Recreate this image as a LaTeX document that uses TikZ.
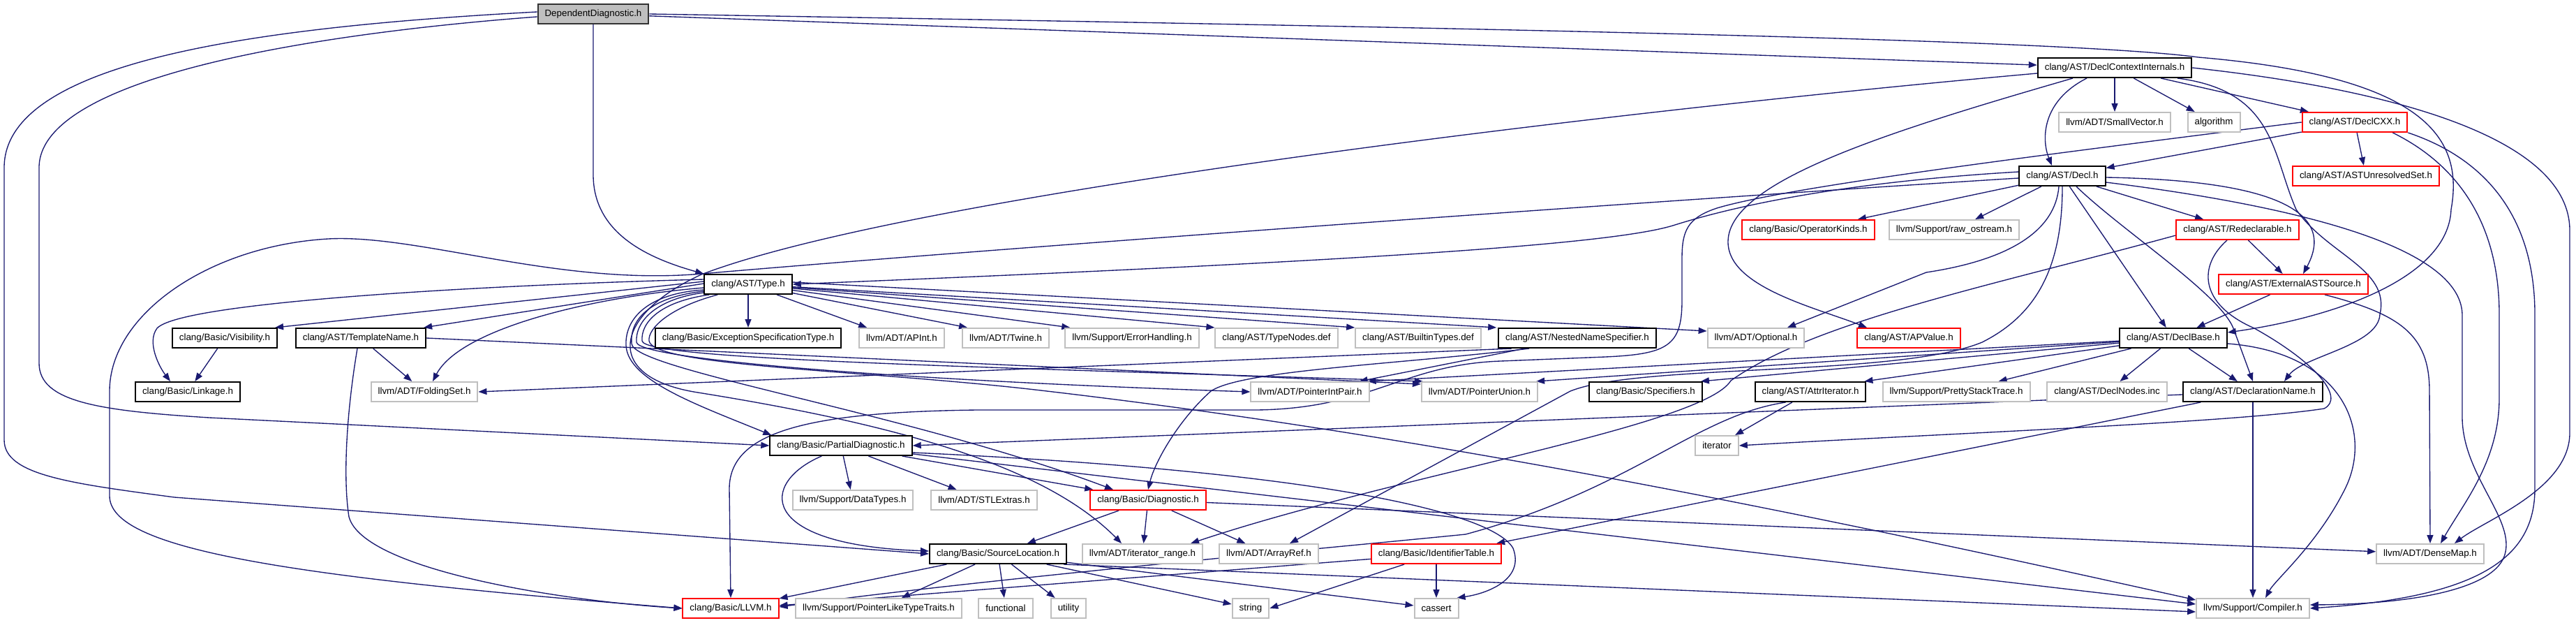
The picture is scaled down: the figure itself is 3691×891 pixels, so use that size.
\documentclass[tikz,border=0pt]{standalone}
\usepackage{fontspec}
\setmainfont{Liberation Sans}
\usepackage{tikz}
\usetikzlibrary{arrows.meta,calc}
\definecolor{edgeblue}{HTML}{191970}
\definecolor{boxgray}{HTML}{BFBFBF}
\pgfdeclarelayer{edges}
\pgfsetlayers{edges,main}
\tikzset{
  hfile/.style={rectangle,draw,fill=white,line width=0.4mm,minimum height=5.6mm,
    inner xsep=2mm,inner ysep=0pt,font=\fontsize{7.6}{9}\selectfont}, % include-graph box
  hroot/.style={hfile,fill=boxgray,draw=black!80},  % the file itself
  hdoc/.style={hfile,draw=black},                   % documented header
  hred/.style={hfile,draw=red},                     % graph truncated
  hext/.style={hfile,draw=boxgray},                 % no documentation
  dep/.style={-{Triangle[length=2.4mm,width=1.8mm]},edgeblue,line width=0.27mm},
}

\begin{document}
\begin{tikzpicture}[x=0.2mm,y=-0.2mm]
  \useasboundingbox (0,0) rectangle (3691,891);
  % upper rows
  \node[hroot] (DD) at (850,20) {DependentDiagnostic.h};
  \node[hdoc] (DCI) at (3030,97) {clang/AST/DeclContextInternals.h};
  \node[hext] (SV) at (3030,175) {llvm/ADT/SmallVector.h};
  \node[hext] (ALG) at (3172,175) {algorithm};
  \node[hred] (CXX) at (3374,175) {clang/AST/DeclCXX.h};
  \node[hdoc] (DECL) at (2955,252) {clang/AST/Decl.h};
  \node[hred] (AUS) at (3390,252) {clang/AST/ASTUnresolvedSet.h};
  \node[hred] (OPK) at (2591,329) {clang/Basic/OperatorKinds.h};
  \node[hext] (RAW) at (2800,329) {llvm/Support/raw\_ostream.h};
  \node[hred] (RED) at (3206,329) {clang/AST/Redeclarable.h};
  \node[hdoc] (TYPE) at (1072,407) {clang/AST/Type.h};
  \node[hred] (EXT) at (3286,407) {clang/AST/ExternalASTSource.h};
  % row of Type.h includes
  \node[hdoc] (VIS) at (322,484) {clang/Basic/Visibility.h};
  \node[hdoc] (TN) at (517,484) {clang/AST/TemplateName.h};
  \node[hdoc] (EST) at (1072,484) {clang/Basic/ExceptionSpecificationType.h};
  \node[hext] (APINT) at (1292,484) {llvm/ADT/APInt.h};
  \node[hext] (TWINE) at (1441,484) {llvm/ADT/Twine.h};
  \node[hext] (ERR) at (1622,484) {llvm/Support/ErrorHandling.h};
  \node[hext] (TND) at (1829,484) {clang/AST/TypeNodes.def};
  \node[hext] (BT) at (2032,484) {clang/AST/BuiltinTypes.def};
  \node[hdoc] (NNS) at (2260,484) {clang/AST/NestedNameSpecifier.h};
  \node[hext] (OPT) at (2516,484) {llvm/ADT/Optional.h};
  \node[hred] (APV) at (2735,484) {clang/AST/APValue.h};
  \node[hdoc] (DB) at (3114,484) {clang/AST/DeclBase.h};
  \node[hdoc] (LINK) at (269,561) {clang/Basic/Linkage.h};
  \node[hext] (FS) at (608,561) {llvm/ADT/FoldingSet.h};
  \node[hext] (PIP) at (1877,561) {llvm/ADT/PointerIntPair.h};
  \node[hext] (PU) at (2120,561) {llvm/ADT/PointerUnion.h};
  \node[hdoc] (SPEC) at (2358,561) {clang/Basic/Specifiers.h};
  \node[hdoc] (ATTR) at (2594,561) {clang/AST/AttrIterator.h};
  \node[hext] (PST) at (2803,561) {llvm/Support/PrettyStackTrace.h};
  \node[hext] (DNI) at (3019,561) {clang/AST/DeclNodes.inc};
  \node[hdoc] (DN) at (3228,561) {clang/AST/DeclarationName.h};
  % lower rows
  \node[hdoc] (PD) at (1205,638) {clang/Basic/PartialDiagnostic.h};
  \node[hext] (ITER) at (2460,638) {iterator};
  \node[hext] (DT) at (1222,716) {llvm/Support/DataTypes.h};
  \node[hext] (STL) at (1410,716) {llvm/ADT/STLExtras.h};
  \node[hred] (DIAG) at (1645,716) {clang/Basic/Diagnostic.h};
  \node[hdoc] (SL) at (1430,793) {clang/Basic/SourceLocation.h};
  \node[hext] (IR) at (1637,793) {llvm/ADT/iterator\_range.h};
  \node[hext] (AR) at (1818,793) {llvm/ADT/ArrayRef.h};
  \node[hred] (IT) at (2058,793) {clang/Basic/IdentifierTable.h};
  \node[hext] (DM) at (3482,793) {llvm/ADT/DenseMap.h};
  \node[hred] (LLVM) at (1047,871) {clang/Basic/LLVM.h};
  \node[hext] (PLT) at (1259,871) {llvm/Support/PointerLikeTypeTraits.h};
  \node[hext] (FUNC) at (1441,871) {functional};
  \node[hext] (UTIL) at (1531,871) {utility};
  \node[hext] (STR) at (1792,871) {string};
  \node[hext] (CASS) at (2058,871) {cassert};
  \node[hext] (COMP) at (3228,871) {llvm/Support/Compiler.h};

  \begin{pgfonlayer}{edges}
  \foreach \a/\b in {DCI/SV,DCI/ALG,DCI/CXX,CXX/AUS,CXX/DECL,DECL/OPK,DECL/RAW,DECL/RED,DECL/DB,
      RED/EXT,EXT/DB,DB/PST,DB/DNI,DB/DN,DN/COMP,ATTR/ITER,TYPE/EST,VIS/LINK,TN/FS,PD/DT,PD/STL,
      DIAG/SL,DIAG/IR,DIAG/AR,DIAG/DM,SL/LLVM,SL/PLT,SL/FUNC,SL/UTIL,SL/CASS,IT/CASS}
    \draw[dep] (\a) -- (\b);
  % DependentDiagnostic.h
  \draw[dep] (DD) -- (DCI);
  \draw[dep] (DD.east) .. controls (2000,38) and (2950,55) .. (3150,82) .. controls (3480,110) and (3530,200) .. (3512,300) .. controls (3508,400) and (3340,455) .. ($(DB.east)+(0,-8)$);
  \draw[dep] (DD.south) -- (850,250) .. controls (850,335) and (930,370) .. (TYPE.north west);
  \draw[dep] ($(DD.west)+(0,4)$) .. controls (450,48) and (56,110) .. (56,240) -- (56,520) .. controls (56,575) and (140,588) .. (300,598) -- (PD.west);
  \draw[dep] ($(DD.west)+(0,-3)$) .. controls (380,38) and (6,85) .. (6,240) -- (6,630) .. controls (6,680) and (100,692) .. (250,712) -- (SL.west);
  % DeclContextInternals.h
  \draw[dep] ($(DCI.south)+(-40,0)$) .. controls (2925,145) and (2925,200) .. ($(DECL.north)+(-15,0)$);
  \draw[dep] ($(DCI.south)+(90,0)$) .. controls (3260,130) and (3255,220) .. (3290,300) .. controls (3335,365) and (3425,385) .. (3410,450) .. controls (3408,495) and (3300,510) .. ($(DN.north)+(45,0)$);
  \draw[dep] (DCI.east) .. controls (3400,125) and (3682,190) .. (3682,330) -- (3682,620) .. controls (3682,700) and (3560,745) .. ($(DM.north)+(35,0)$);
  \draw[dep] ($(DCI.west)+(0,8)$) .. controls (2300,160) and (1300,280) .. (1005,393) .. controls (880,450) and (860,540) .. (1000,562) .. controls (1300,610) and (1500,670) .. ($(IR.north)+(-30,0)$);
  \draw[dep] ($(DCI.south)+(-60,0)$) .. controls (2700,190) and (2478,260) .. (2476,345) .. controls (2474,410) and (2600,440) .. ($(APV.north)+(-60,0)$);
  % DeclCXX.h
  \draw[dep] ($(CXX.south east)+(-22,0)$) .. controls (3530,240) and (3581,330) .. (3581,450) -- (3581,570) .. controls (3581,660) and (3530,720) .. ($(DM.north)+(15,0)$);
  \draw[dep] (CXX.south east) .. controls (3570,230) and (3632,320) .. (3632,450) -- (3632,700) .. controls (3632,800) and (3550,855) .. (COMP.east);
  \draw[dep] (CXX.west) .. controls (2900,225) and (2560,268) .. (2460,298) .. controls (2418,312) and (2410,330) .. (2410,370) -- (2410,430) .. controls (2410,495) and (2390,507) .. (2300,511) -- (2150,517) .. controls (2010,522) and (1965,585) .. (1800,587) -- (1400,587) .. controls (1150,590) and (1045,620) .. (1045,700) -- (LLVM.north);
  % Decl.h
  \draw[dep] ($(DECL.west)+(0,-6)$) .. controls (2620,262) and (2470,300) .. (2400,322) .. controls (2320,348) and (2000,372) .. (TYPE.east);
  \draw[dep] ($(DECL.west)+(0,3)$) .. controls (2300,292) and (1400,358) .. (1005,392) .. controls (800,410) and (600,335) .. (470,342) .. controls (300,352) and (157,450) .. (157,560) -- (157,710) .. controls (157,785) and (400,825) .. (LLVM.west);
  \draw[dep] ($(DECL.east)+(0,2)$) .. controls (3250,258) and (3350,300) .. ($(EXT.north)+(14,0)$);
  \draw[dep] ($(DECL.east)+(0,9)$) .. controls (3250,290) and (3525,345) .. (3528,450) -- (3528,600) .. controls (3530,680) and (3600,740) .. (3590,790) .. controls (3580,845) and (3450,865) .. ($(COMP.east)+(0,-5)$);
  \draw[dep] ($(DECL.south)+(20,0)$) .. controls (3040,330) and (3180,420) .. (3200,470) -- (DN.north);
  \draw[dep] ($(DECL.south)+(-5,0)$) .. controls (2945,330) and (2880,372) .. (2760,390) -- ($(OPT.north)+(45,0)$);
  \draw[dep] (DECL.south) .. controls (2955,380) and (2920,450) .. (2840,490) .. controls (2720,540) and (2350,520) .. (2250,560) -- ($(AR.north)+(30,0)$);
  % Redeclarable.h, ExternalASTSource.h
  \draw[dep] ($(RED.south)+(-15,0)$) .. controls (3150,380) and (3150,435) .. (3230,470) .. controls (3320,520) and (3360,570) .. (3330,585) .. controls (3200,605) and (2800,620) .. (ITER.east);
  \draw[dep] ($(RED.west)+(0,8)$) .. controls (2850,410) and (2600,460) .. (2480,545) .. controls (2440,610) and (2000,680) .. ($(IR.north east)+(-18,0)$);
  \draw[dep] ($(EXT.south)+(45,0)$) .. controls (3440,450) and (3481,480) .. (3481,560) -- (DM.north);
  % DeclBase.h
  \draw[dep] ($(DB.east)+(0,8)$) .. controls (3360,505) and (3400,620) .. (3360,700) .. controls (3320,780) and (3260,830) .. ($(COMP.north)+(18,0)$);
  \draw[dep] (DB) -- ($(ATTR.north east)+(-3,0)$);
  \draw[dep] (DB) -- ($(SPEC.north east)+(-3,0)$);
  \draw[dep] (DB) -- ($(PU.north east)+(-3,0)$);
  \draw[dep] (DB) -- ($(PIP.north east)+(-3,0)$);
  % DeclarationName.h, AttrIterator.h, NestedNameSpecifier.h
  \draw[dep] (DN) -- (PD.east);
  \draw[dep] (DN) -- ($(IT.north east)+(-8,0)$);
  \draw[dep] ($(ATTR.south west)+(45,0)$) .. controls (2430,595) and (2340,700) .. (2100,765) .. controls (1900,785) and (1400,830) .. ($(LLVM.east)+(0,-2)$);
  \draw[dep] (NNS) -- ($(PIP.north east)+(-15,0)$);
  \draw[dep] ($(NNS.south west)+(20,0)$) -- (FS.east);
  \draw[dep] ($(NNS.south west)+(45,0)$) .. controls (2000,522) and (1780,530) .. (1735,560) .. controls (1690,600) and (1655,660) .. (DIAG.north);
  % Type.h
  \draw[dep] (TYPE) -- ($(APINT.north west)+(12,0)$);
  \draw[dep] (TYPE) -- ($(TWINE.north west)+(8,0)$);
  \draw[dep] (TYPE) -- ($(ERR.north west)+(8,0)$);
  \draw[dep] (TYPE) -- (TND.north west);
  \draw[dep] (TYPE) -- (BT.north west);
  \draw[dep] (TYPE) -- ($(NNS.north west)+(-2,0)$);
  \draw[dep] ($(TYPE.east)+(0,-3)$) -- ($(OPT.west)+(0,-10)$);
  \draw[dep] ($(TYPE.west)+(0,-4)$) -- ($(VIS.north east)+(-4,0)$);
  \draw[dep] ($(TYPE.west)+(0,-1)$) -- ($(TN.north east)+(-4,0)$);
  \draw[dep] ($(TYPE.west)+(0,-7)$) .. controls (700,408) and (260,432) .. (225,470) .. controls (210,490) and (228,525) .. ($(LINK.north)+(-25,0)$);
  \draw[dep] ($(TYPE.west)+(0,5)$) .. controls (850,425) and (660,470) .. ($(FS.north)+(12,0)$);
  \draw[dep] ($(TYPE.west)+(0,8)$) .. controls (930,420) and (895,455) .. (897,495) .. controls (900,545) and (1000,580) .. ($(PD.north west)+(3,0)$);
  \draw[dep] ($(TYPE.west)+(0,10)$) .. controls (935,425) and (902,455) .. (905,492) .. controls (908,530) and (1300,590) .. ($(DIAG.north)+(-50,0)$);
  \draw[dep] ($(TYPE.west)+(0,12)$) .. controls (940,428) and (910,460) .. (912,490) .. controls (915,515) and (1300,545) .. (PIP.west);
  \draw[dep] ($(TYPE.south west)+(8,0)$) .. controls (945,432) and (918,462) .. (920,488) .. controls (922,515) and (1400,525) .. ($(PU.north west)+(3,0)$);
  \draw[dep] ($(TYPE.south west)+(20,0)$) .. controls (960,440) and (928,470) .. (930,488) .. controls (935,525) and (1250,530) .. (1500,560) .. controls (2100,630) and (2700,760) .. ($(COMP.west)+(0,-12)$);
  % TemplateName.h
  \draw[dep] (TN.east) -- ($(PU.north west)+(0,4)$);
  \draw[dep] ($(TN.south)+(-5,0)$) .. controls (495,600) and (492,690) .. (500,740) .. controls (520,815) and (800,860) .. (LLVM.west);
  % PartialDiagnostic.h
  \draw[dep] ($(PD.south east)+(-15,0)$) -- ($(DIAG.north west)+(5,0)$);
  \draw[dep] ($(PD.south west)+(75,0)$) .. controls (1090,690) and (1080,780) .. ($(SL.west)+(0,-4)$);
  \draw[dep] (PD) -- ($(COMP.west)+(0,-6)$);
  \draw[dep] ($(PD.east)+(0,10)$) .. controls (1900,675) and (2140,735) .. (2168,785) .. controls (2185,830) and (2130,850) .. ($(CASS.north east)+(-3,0)$);
  % SourceLocation.h, IdentifierTable.h
  \draw[dep] (SL) -- ($(STR.west)+(0,-6)$);
  \draw[dep] ($(SL.south east)+(-5,0)$) -- ($(COMP.west)+(0,5)$);
  \draw[dep] (IT) -- (STR.east);
  \draw[dep] (IT) -- ($(LLVM.east)+(0,-4)$);
  \end{pgfonlayer}
\end{tikzpicture}
\end{document}
